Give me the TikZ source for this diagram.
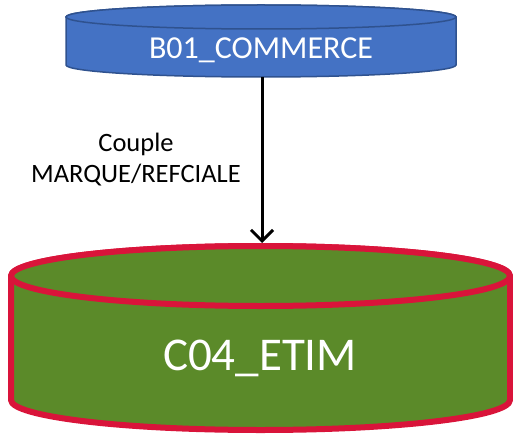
\documentclass[tikz,border=0pt]{standalone}
\usepackage{fontspec}
\setmainfont{Carlito}
\usetikzlibrary{arrows.meta}
\definecolor{dbblue}{HTML}{4472C4}
\definecolor{dbborder}{HTML}{2F528F}
\definecolor{etimgreen}{HTML}{5B8A29}
\definecolor{etimred}{HTML}{D9143A}
\tikzset{
  dbtop/.style={fill=dbblue, draw=dbborder, line width=1.5pt},
  etim/.style={fill=etimgreen, draw=etimred, line width=6pt, line join=round},
  dblabel/.style={text=white, inner sep=0pt},
  flow/.style={draw=black, line width=3pt, -{Straight Barb[length=11pt,width=22pt,line width=3pt]}},
  flowlabel/.style={align=center, inner sep=0pt, font=\fontsize{26.5}{31}\selectfont}
}
\begin{document}
\begin{tikzpicture}[x=1pt,y=1pt]
\useasboundingbox (0,0) rectangle (513,437);
% top cylinder B01_COMMERCE
\path[dbtop] (66,420) -- (66,372) arc[start angle=180,end angle=360,x radius=195pt,y radius=12pt] -- (456,420) arc[start angle=0,end angle=180,x radius=195pt,y radius=12pt] -- cycle;
\path[dbtop] (261,420) ellipse[x radius=195pt,y radius=12pt];
\node[dblabel, font=\fontsize{32}{38}\selectfont] (b01) at (261,387) {B01\_COMMERCE};
\coordinate (b01bottom) at (262,360);
% bottom cylinder C04_ETIM
\path[etim] (11,161) -- (11,37) arc[start angle=180,end angle=360,x radius=249.5pt,y radius=30pt] -- (510,161) arc[start angle=0,end angle=180,x radius=249.5pt,y radius=30pt] -- cycle;
\path[etim] (260.5,161) ellipse[x radius=249.5pt,y radius=30pt];
\node[dblabel, font=\fontsize{47}{56}\selectfont] (c04) at (260,79) {C04\_ETIM};
\coordinate (c04top) at (262,194);
% connector
\draw[flow] (b01bottom) -- (c04top);
\node[flowlabel] (lbl) at (136,277) {Couple\\MARQUE/REFCIALE};
\end{tikzpicture}
\end{document}
